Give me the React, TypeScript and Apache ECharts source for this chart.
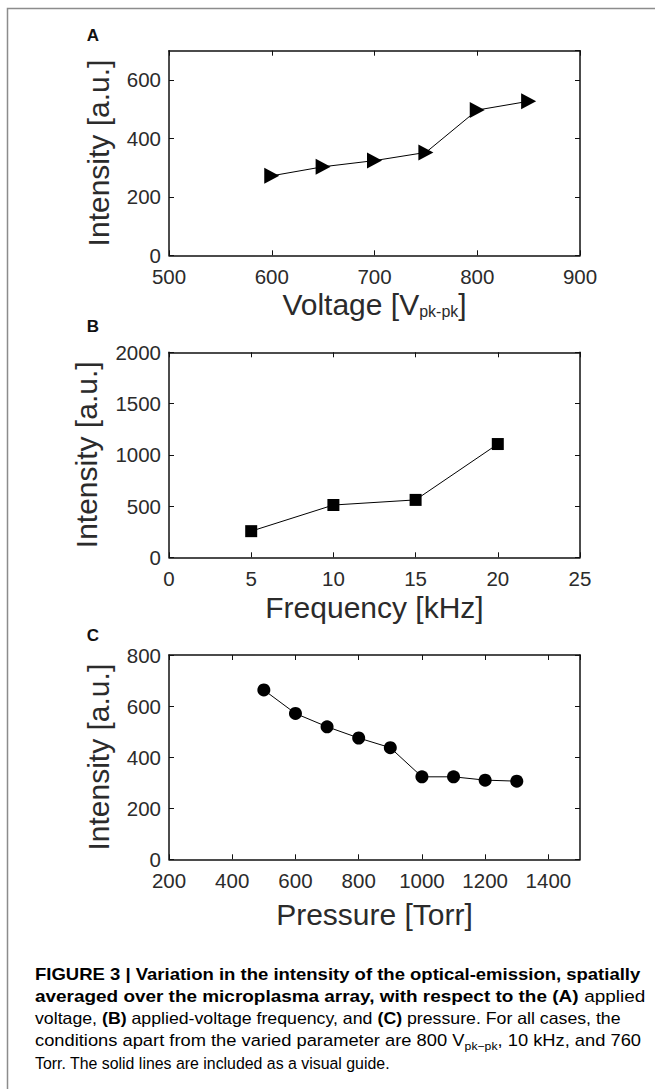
import React, { useEffect, useRef } from "react";
import * as echarts from "echarts";

// ---------- data ----------
const voltage = [600, 650, 700, 750, 800, 850];
const voltageIntensity = [272, 303, 324, 352, 497, 527];

const frequency = [5, 10, 15, 20];
const frequencyIntensity = [255, 510, 560, 1105];

const pressure = [500, 600, 700, 800, 900, 1000, 1100, 1200, 1300];
const pressureIntensity = [663, 571, 519, 475, 437, 323, 323, 310, 306];

// axis ranges: [min, max, interval]
const xRanges = [
  [500, 900, 100],
  [0, 25, 5],
  [200, 1500, 200],
];
const yRanges = [
  [0, 700, 200],
  [0, 2000, 500],
  [0, 800, 200],
];

const panelLetters = ["A", "B", "C"];
const yTitle = "Intensity [a.u.]";
const xTitles = ["{m|Voltage [V}{s|pk-pk}{m|]}", "{m|Frequency [kHz]}", "{m|Pressure [Torr]}"];

const captionLines = [
  [["b", "FIGURE 3 | Variation in the intensity of the optical-emission, spatially"]],
  [["b", "averaged over the microplasma array, with respect to the (A)"], ["r", " applied"]],
  [["r", "voltage, "], ["b", "(B)"], ["r", " applied-voltage frequency, and "], ["b", "(C)"], ["r", " pressure. For all cases, the"]],
  [["r", "conditions apart from the varied parameter are 800 V"], ["s", "pk\u2212pk"], ["r", ", 10 kHz, and 760"]],
  [["r", "Torr. The solid lines are included as a visual guide."]],
];

// ---------- layout ----------
const FONT = "'Liberation Sans', Arial, Helvetica, sans-serif";
const plotLeft = 169;
const plotWidth = 411;
const plotTops = [50.7, 352.3, 655];
const plotHeights = [204.6, 205, 204.3];
const xTitleY = [304, 607, 914];
const yTitleX = [98.5, 86.5, 98];
const letterY = [35, 326, 635];
const captionX = 35;
const captionEnds = [641, 645, 621, 641, 390];
const captionY = [974, 996.2, 1018.4, 1040.6, 1062.8];

const capFonts: Record<string, string> = {
  b: `bold 16.5px ${FONT}`,
  r: `16.5px ${FONT}`,
  s: `11px ${FONT}`,
};

function measureLine(segs: string[][]) {
  const ctx = document.createElement("canvas").getContext("2d");
  if (!ctx) return 0;
  let w = 0;
  for (const [k, t] of segs) {
    ctx.font = capFonts[k];
    w += ctx.measureText(t).width;
  }
  return w;
}

export default function App() {
  const ref = useRef<HTMLDivElement>(null);

  useEffect(() => {
    document.body.style.margin = "0";
    if (!ref.current) return;
    const chart = echarts.init(ref.current, undefined, { renderer: "svg" });

    const axisLineStyle = { color: "#111", width: 1.5 };
    const labelStyle = { color: "#2b2b2b", fontSize: 20.5, fontFamily: FONT };
    const plain = (v: number) => String(v);

    const grids = plotTops.map((top, i) => ({
      left: plotLeft,
      top,
      width: plotWidth,
      height: plotHeights[i],
      containLabel: false,
    }));

    const xAxes: any[] = [];
    const yAxes: any[] = [];
    for (let i = 0; i < 3; i++) {
      const [xmin, xmax, xint] = xRanges[i];
      const [ymin, ymax, yint] = yRanges[i];
      for (const pos of ["bottom", "top"]) {
        xAxes.push({
          type: "value",
          gridIndex: i,
          position: pos,
          min: xmin,
          max: xmax,
          interval: xint,
          axisLine: { show: true, onZero: false, lineStyle: axisLineStyle },
          axisTick: { show: true, inside: true, length: 5, lineStyle: { color: "#111", width: 1 } },
          axisLabel: {
            show: pos === "bottom",
            margin: 10.5,
            showMaxLabel: i === 2 ? false : true,
            formatter: plain,
            ...labelStyle,
          },
          splitLine: { show: false },
        });
      }
      for (const pos of ["left", "right"]) {
        yAxes.push({
          type: "value",
          gridIndex: i,
          position: pos,
          min: ymin,
          max: ymax,
          interval: yint,
          axisLine: { show: true, onZero: false, lineStyle: axisLineStyle },
          axisTick: { show: true, inside: true, length: 5, lineStyle: { color: "#111", width: 1 } },
          axisLabel: {
            show: pos === "left",
            margin: 8,
            showMaxLabel: i === 0 ? false : true,
            formatter: plain,
            ...labelStyle,
          },
          splitLine: { show: false },
        });
      }
    }

    const seriesData = [
      { xs: voltage, ys: voltageIntensity, symbol: "triangle", size: [16, 15], rotate: -90 },
      { xs: frequency, ys: frequencyIntensity, symbol: "rect", size: 12, rotate: 0 },
      { xs: pressure, ys: pressureIntensity, symbol: "circle", size: 13, rotate: 0 },
    ];

    const series = seriesData.map((s, i) => ({
      type: "line",
      xAxisIndex: i * 2,
      yAxisIndex: i * 2,
      data: s.xs.map((x, j) => [x, s.ys[j]]),
      symbol: s.symbol,
      symbolSize: s.size,
      symbolRotate: s.rotate,
      showAllSymbol: true,
      lineStyle: { color: "#000", width: 1 },
      itemStyle: { color: "#000", borderWidth: 0 },
      z: 3,
    }));

    const graphics: any[] = [];
    // frame
    graphics.push({
      type: "polyline",
      shape: { points: [[7.5, 1089], [7.5, 8.5], [655, 8.5]] },
      style: { stroke: "#8c8c8c", lineWidth: 1.5, fill: null },
      silent: true,
    });

    for (let i = 0; i < 3; i++) {
      graphics.push({
        type: "text",
        x: 93,
        y: letterY[i],
        style: {
          text: panelLetters[i],
          font: `bold 17px ${FONT}`,
          fill: "#111",
          align: "center",
          verticalAlign: "middle",
          textAlign: "center",
          textVerticalAlign: "middle",
        },
      });
      graphics.push({
        type: "text",
        x: yTitleX[i],
        y: plotTops[i] + plotHeights[i] / 2,
        rotation: Math.PI / 2,
        style: {
          text: yTitle,
          font: `30px ${FONT}`,
          fill: "#2b2b2b",
          align: "center",
          verticalAlign: "middle",
          textAlign: "center",
          textVerticalAlign: "middle",
        },
      });
      graphics.push({
        type: "text",
        x: plotLeft + plotWidth / 2,
        y: xTitleY[i],
        style: {
          text: xTitles[i],
          fill: "#2b2b2b",
          align: "center",
          verticalAlign: "middle",
          textAlign: "center",
          textVerticalAlign: "middle",
          rich: {
            m: { fontSize: 30, fontFamily: FONT, color: "#2b2b2b", lineHeight: 30 },
            s: { fontSize: 16, fontFamily: FONT, color: "#2b2b2b", lineHeight: 20, verticalAlign: "bottom" },
          },
        },
      });
    }

    captionLines.forEach((segs, i) => {
      const natural = measureLine(segs);
      const target = captionEnds[i] - captionX;
      const sx = natural > 0 ? target / natural : 1;
      graphics.push({
        type: "text",
        x: captionX,
        y: captionY[i],
        scaleX: sx,
        style: {
          text: segs.map(([k, t]) => `{${k}|${t}}`).join(""),
          align: "left",
          verticalAlign: "middle",
          textAlign: "left",
          textVerticalAlign: "middle",
          rich: {
            b: { fontSize: 16.5, fontWeight: "bold", fontFamily: FONT, color: "#222", lineHeight: 22 },
            r: { fontSize: 16.5, fontFamily: FONT, color: "#3c3c3c", lineHeight: 22 },
            s: { fontSize: 11, fontFamily: FONT, color: "#3c3c3c", lineHeight: 10, verticalAlign: "bottom" },
          },
        },
      });
    });

    chart.setOption({
      animation: false,
      backgroundColor: "#fff",
      grid: grids,
      xAxis: xAxes,
      yAxis: yAxes,
      series,
      graphic: { elements: graphics },
    });

    return () => chart.dispose();
  }, []);

  return <div ref={ref} style={{ width: 655, height: 1089 }} />;
}
